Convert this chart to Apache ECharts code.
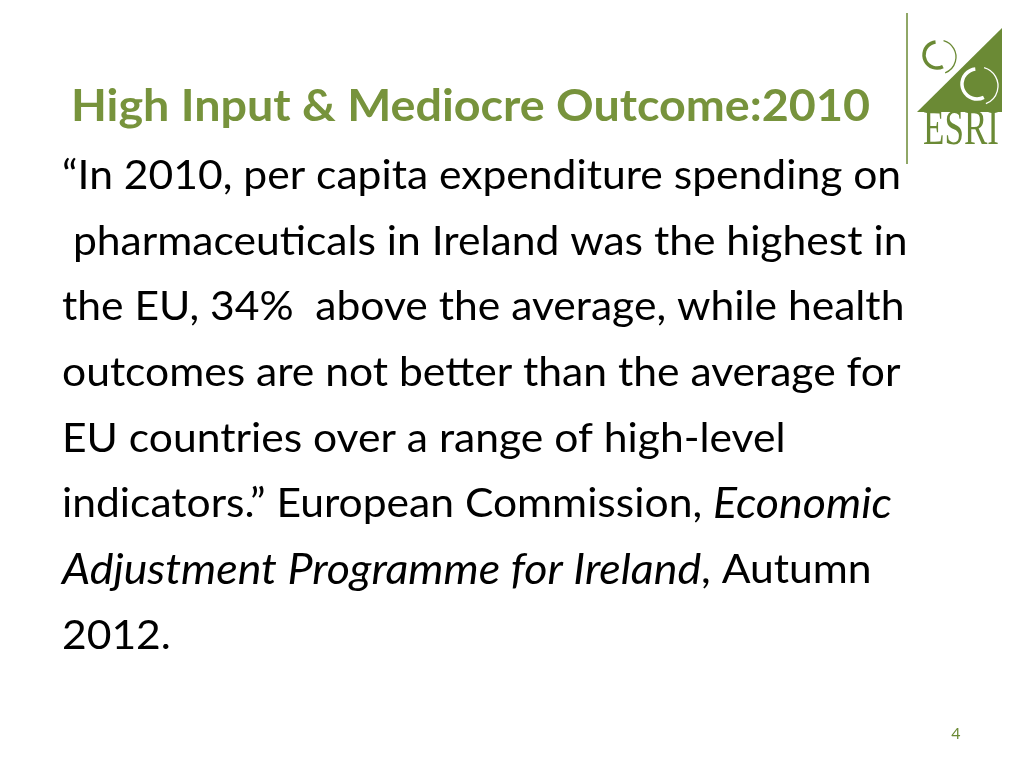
<!DOCTYPE html>
<html>
<head>
<meta charset="utf-8">
<title>High Input & Mediocre Outcome:2010</title>
<script src="https://cdn.jsdelivr.net/npm/echarts@6/dist/echarts.min.js"></script>
<style>
  html, body { margin: 0; padding: 0; background: #fff; }
  #slide { width: 1024px; height: 768px; }
</style>
</head>
<body>
<div id="slide"></div>
<script>
// slide text
var titleText = 'High Input & Mediocre Outcome:2010';
var bodyLines = [
    '\u201cIn 2010, per capita expenditure spending on',
    ' pharmaceuticals in Ireland was the highest in',
    'the EU, 34%  above the average, while health',
    'outcomes are not better than the average for',
    'EU countries over a range of high-level',
    'indicators.\u201d European Commission, {i|Economic}',
    '{i|Adjustment Programme for Ireland}, Autumn',
    '2012.'
];
var pageNumber = '4';
var logoText = 'ESRI';

var green = '#77933c';
var logoGreen = '#6b8a35';
var bodyFont = 'Lato, "Open Sans", sans-serif';

var chart = echarts.init(document.getElementById('slide'));

var elements = [];

// title
elements.push({
    type: 'text',
    x: 71,
    y: 107,
    scaleX: 1.085,
    style: {
        text: titleText,
        fill: green,
        font: 'bold 43px ' + bodyFont,
        verticalAlign: 'middle'
    }
});

// quote body
bodyLines.forEach(function (line, i) {
    elements.push({
        type: 'text',
        x: 62,
        y: 176 + i * 65.7,
        scaleX: 1.065,
        style: {
            text: line,
            fill: '#000',
            fontFamily: bodyFont,
            fontSize: 40,
            verticalAlign: 'middle',
            rich: {
                // Lato italic runs narrower than the original, so bump it a bit
                i: { fontFamily: bodyFont, fontSize: 42, fontStyle: 'italic', fill: '#000' }
            }
        }
    });
});

// page number
elements.push({
    type: 'text',
    x: 956,
    y: 734,
    style: {
        text: pageNumber,
        fill: logoGreen,
        font: '16px ' + bodyFont,
        align: 'center',
        verticalAlign: 'middle'
    }
});

// ESRI logo: thick crescent on the left plus a thin arc on the right
function ring(cx, cy, r, color) {
    return [
        {
            type: 'arc',
            shape: { cx: cx, cy: cy, r: r, startAngle: 1.1, endAngle: 4.6 },
            style: { stroke: color, lineWidth: 3.5, fill: 'none' }
        },
        {
            type: 'arc',
            shape: { cx: cx + 2, cy: cy + 2, r: r + 4, startAngle: -1.3, endAngle: 1.2 },
            style: { stroke: color, lineWidth: 1.3, fill: 'none' }
        }
    ];
}

elements.push({
    type: 'group',
    children: [
        {
            type: 'line',
            shape: { x1: 907, y1: 13, x2: 907, y2: 164 },
            style: { stroke: logoGreen, lineWidth: 1.5 }
        },
        {
            type: 'polygon',
            shape: { points: [[917, 112], [1002, 28], [1002, 112]] },
            style: { fill: logoGreen }
        }
    ].concat(ring(937, 55, 13, logoGreen), ring(977, 84, 15, '#fff'), [
        {
            type: 'text',
            x: 961,
            y: 131,
            scaleX: 0.7,
            style: {
                text: logoText,
                fill: logoGreen,
                font: '50px "Liberation Serif", "DejaVu Serif", serif',
                align: 'center',
                verticalAlign: 'middle'
            }
        }
    ])
});

chart.setOption({
    backgroundColor: '#fff',
    graphic: { elements: elements }
});
</script>
</body>
</html>
